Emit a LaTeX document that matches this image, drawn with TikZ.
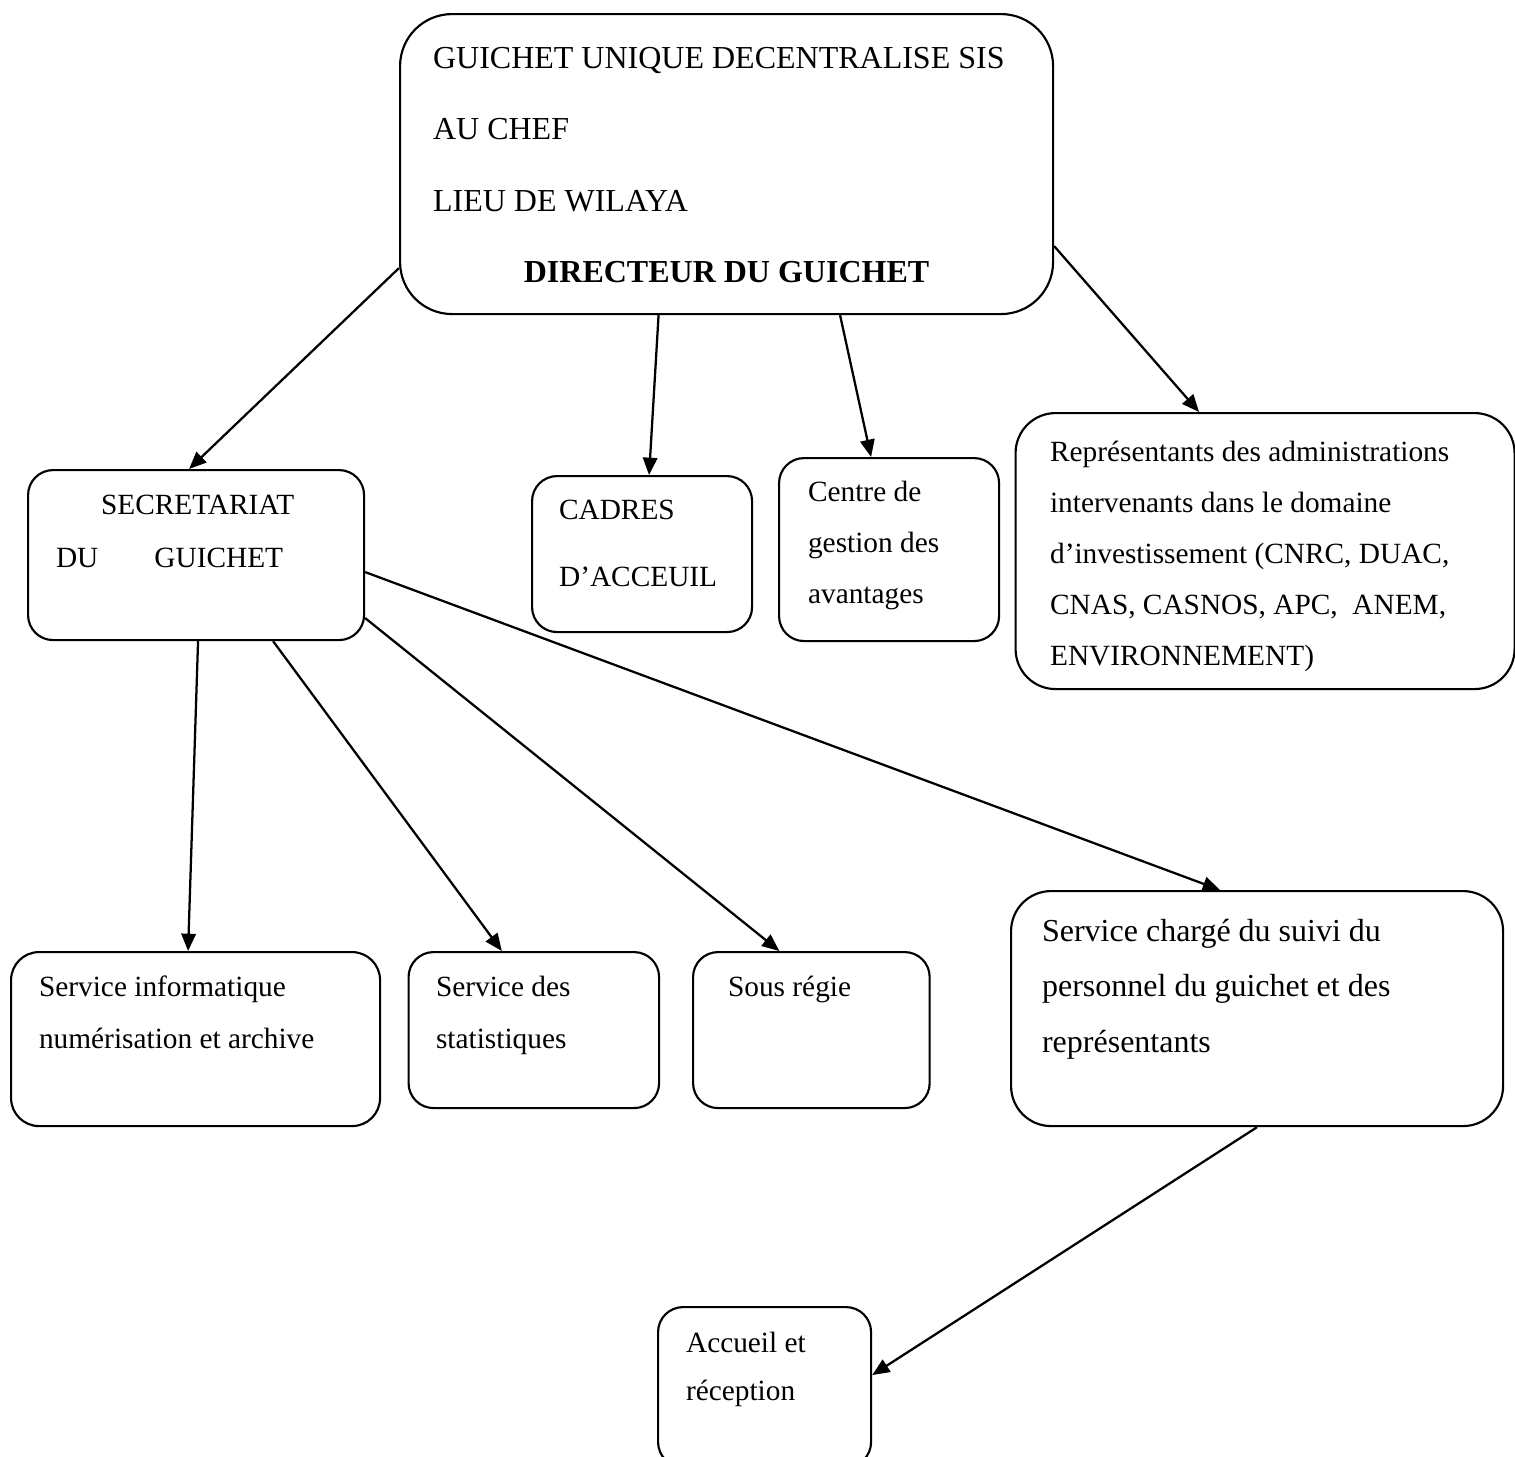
\documentclass[tikz,border=0pt]{standalone}
\usepackage{fontspec}
\setmainfont{Liberation Serif}
\usetikzlibrary{arrows.meta}
\newdimen\pxu \pxu=0.375pt
\newcommand{\boxtext}[4]{\parbox[c][#2\pxu][t]{#1\pxu}{\raggedright\baselineskip=#3\pxu\rule{0pt}{24\pxu}#4}}

\begin{document}
\begin{tikzpicture}[
    x=0.375pt, y=-0.375pt,
    box/.style={draw, line width=0.8pt, anchor=north west, inner sep=0pt, font=\fontsize{11pt}{13pt}\selectfont},
    big/.style={font=\fontsize{12pt}{14pt}\selectfont},
    arrow/.style={-{Triangle[length=6.5pt, width=5.4pt]}, line width=0.85pt}
]
\useasboundingbox (0,0) rectangle (1515,1456);
\clip (0,0) rectangle (1515,1456);

\node[box, big, rounded corners=52\pxu, inner xsep=33\pxu, inner ysep=30\pxu] (guichet) at (399,13)
    {\boxtext{587}{240}{71.5}{GUICHET UNIQUE DECENTRALISE SIS\\AU CHEF\\LIEU DE WILAYA\\\makebox[587\pxu]{\bfseries DIRECTEUR DU GUICHET}}};
\node[box, rounded corners=25\pxu, inner xsep=28\pxu, inner ysep=20\pxu] (secr) at (27,469)
    {\boxtext{280}{130}{53}{\hspace*{45\pxu}SECRETARIAT\\DU\hspace{56\pxu}GUICHET}};
\node[box, rounded corners=25\pxu, inner xsep=27\pxu, inner ysep=19\pxu] (cadres) at (531,475)
    {\boxtext{166}{118}{67}{CADRES\\D’ACCEUIL}};
\node[box, rounded corners=25\pxu, inner xsep=29\pxu, inner ysep=19\pxu] (centre) at (778,457)
    {\boxtext{162}{145}{51}{Centre de\\gestion des\\avantages}};
\node[box, rounded corners=40\pxu, inner xsep=34.5\pxu, inner ysep=24\pxu] (repr) at (1014.5,412)
    {\boxtext{430}{228}{51.2}{Représentants des administrations\\intervenants dans le domaine\\d’investissement (CNRC, DUAC,\\CNAS, CASNOS, APC, \ ANEM,\\ENVIRONNEMENT)}};
\node[box, rounded corners=28\pxu, inner xsep=28\pxu, inner ysep=20\pxu] (info) at (10,951)
    {\boxtext{313}{134}{52}{Service informatique\\numérisation et archive}};
\node[box, rounded corners=25\pxu, inner xsep=27.5\pxu, inner ysep=20\pxu] (stat) at (407.5,951)
    {\boxtext{195.5}{116}{52}{Service des\\statistiques}};
\node[box, rounded corners=25\pxu, inner xsep=35\pxu, inner ysep=20\pxu] (sous) at (692,951)
    {\boxtext{166.6}{116}{52}{Sous régie}};
\node[box, big, rounded corners=40\pxu, inner xsep=31\pxu, inner ysep=26\pxu] (charge) at (1010,890)
    {\boxtext{430}{183}{55.5}{Service chargé du suivi du\\personnel du guichet et des\\représentants}};
\node[box, rounded corners=25\pxu, inner xsep=28\pxu, inner ysep=21\pxu] (accueil) at (657,1306)
    {\boxtext{157}{118}{48}{Accueil et\\réception}};

\draw[arrow] ([yshift=-104\pxu]guichet.west) -- ([xshift=-7\pxu]secr.north);
\draw[arrow] ([xshift=-68\pxu]guichet.south) -- ([xshift=7\pxu]cadres.north);
\draw[arrow] ([xshift=113.5\pxu]guichet.south) -- ([xshift=-18\pxu]centre.north);
\draw[arrow] ([yshift=-82\pxu]guichet.east) -- ([xshift=-66\pxu]repr.north);
\draw[arrow] ([xshift=2\pxu]secr.south) -- ([xshift=-7.5\pxu]info.north);
\draw[arrow] ([xshift=77\pxu]secr.south) -- ([xshift=-32\pxu]stat.north);
\draw[arrow] ([yshift=-63\pxu]secr.east) -- ([xshift=-32\pxu]sous.north);
\draw[arrow] ([yshift=-17\pxu]secr.east) -- ([xshift=-37\pxu]charge.north);
\draw[arrow] (charge.south) -- ([yshift=12\pxu]accueil.east);
\end{tikzpicture}
\end{document}
